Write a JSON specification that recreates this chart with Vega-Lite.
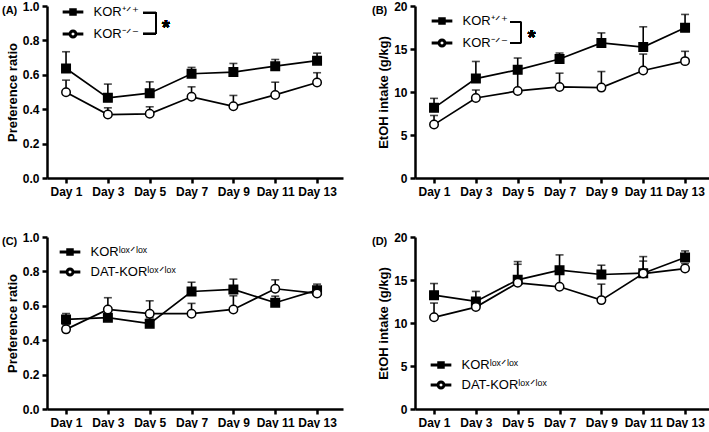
{
  "$schema": "https://vega.github.io/schema/vega-lite/v6.json",
  "padding": {"left": 2, "top": 0, "right": 0, "bottom": 0},
  "data": {"values": [
    {"panel":"A","genotype":"KOR⁺ᐟ⁺","day":1,"mean":0.637,"upper":0.734},
    {"panel":"A","genotype":"KOR⁺ᐟ⁺","day":3,"mean":0.466,"upper":0.546},
    {"panel":"A","genotype":"KOR⁺ᐟ⁺","day":5,"mean":0.493,"upper":0.559},
    {"panel":"A","genotype":"KOR⁺ᐟ⁺","day":7,"mean":0.606,"upper":0.643},
    {"panel":"A","genotype":"KOR⁺ᐟ⁺","day":9,"mean":0.616,"upper":0.666},
    {"panel":"A","genotype":"KOR⁺ᐟ⁺","day":11,"mean":0.650,"upper":0.689},
    {"panel":"A","genotype":"KOR⁺ᐟ⁺","day":13,"mean":0.682,"upper":0.726},
    {"panel":"A","genotype":"KOR⁻ᐟ⁻","day":1,"mean":0.499,"upper":0.569},
    {"panel":"A","genotype":"KOR⁻ᐟ⁻","day":3,"mean":0.369,"upper":0.408},
    {"panel":"A","genotype":"KOR⁻ᐟ⁻","day":5,"mean":0.373,"upper":0.414},
    {"panel":"A","genotype":"KOR⁻ᐟ⁻","day":7,"mean":0.472,"upper":0.530},
    {"panel":"A","genotype":"KOR⁻ᐟ⁻","day":9,"mean":0.417,"upper":0.480},
    {"panel":"A","genotype":"KOR⁻ᐟ⁻","day":11,"mean":0.483,"upper":0.557},
    {"panel":"A","genotype":"KOR⁻ᐟ⁻","day":13,"mean":0.555,"upper":0.612},
    {"panel":"B","genotype":"KOR⁺ᐟ⁺","day":1,"mean":8.16,"upper":9.26},
    {"panel":"B","genotype":"KOR⁺ᐟ⁺","day":3,"mean":11.56,"upper":13.55},
    {"panel":"B","genotype":"KOR⁺ᐟ⁺","day":5,"mean":12.58,"upper":13.95},
    {"panel":"B","genotype":"KOR⁺ᐟ⁺","day":7,"mean":13.83,"upper":14.53},
    {"panel":"B","genotype":"KOR⁺ᐟ⁺","day":9,"mean":15.70,"upper":16.87},
    {"panel":"B","genotype":"KOR⁺ᐟ⁺","day":11,"mean":15.23,"upper":17.58},
    {"panel":"B","genotype":"KOR⁺ᐟ⁺","day":13,"mean":17.46,"upper":19.02},
    {"panel":"B","genotype":"KOR⁻ᐟ⁻","day":1,"mean":6.21,"upper":7.27},
    {"panel":"B","genotype":"KOR⁻ᐟ⁻","day":3,"mean":9.30,"upper":10.23},
    {"panel":"B","genotype":"KOR⁻ᐟ⁻","day":5,"mean":10.12,"upper":12.6},
    {"panel":"B","genotype":"KOR⁻ᐟ⁻","day":7,"mean":10.59,"upper":12.19},
    {"panel":"B","genotype":"KOR⁻ᐟ⁻","day":9,"mean":10.51,"upper":12.38},
    {"panel":"B","genotype":"KOR⁻ᐟ⁻","day":11,"mean":12.5,"upper":14.41},
    {"panel":"B","genotype":"KOR⁻ᐟ⁻","day":13,"mean":13.59,"upper":14.73},
    {"panel":"C","genotype":"KORˡᵒˣᐟˡᵒˣ","day":1,"mean":0.521,"upper":0.555},
    {"panel":"C","genotype":"KORˡᵒˣᐟˡᵒˣ","day":3,"mean":0.531,"upper":0.55},
    {"panel":"C","genotype":"KORˡᵒˣᐟˡᵒˣ","day":5,"mean":0.496,"upper":0.53},
    {"panel":"C","genotype":"KORˡᵒˣᐟˡᵒˣ","day":7,"mean":0.683,"upper":0.737},
    {"panel":"C","genotype":"KORˡᵒˣᐟˡᵒˣ","day":9,"mean":0.695,"upper":0.755},
    {"panel":"C","genotype":"KORˡᵒˣᐟˡᵒˣ","day":11,"mean":0.618,"upper":0.656},
    {"panel":"C","genotype":"KORˡᵒˣᐟˡᵒˣ","day":13,"mean":0.691,"upper":0.726},
    {"panel":"C","genotype":"DAT-KORˡᵒˣᐟˡᵒˣ","day":1,"mean":0.463,"upper":0.49},
    {"panel":"C","genotype":"DAT-KORˡᵒˣᐟˡᵒˣ","day":3,"mean":0.579,"upper":0.647},
    {"panel":"C","genotype":"DAT-KORˡᵒˣᐟˡᵒˣ","day":5,"mean":0.554,"upper":0.629},
    {"panel":"C","genotype":"DAT-KORˡᵒˣᐟˡᵒˣ","day":7,"mean":0.554,"upper":0.614},
    {"panel":"C","genotype":"DAT-KORˡᵒˣᐟˡᵒˣ","day":9,"mean":0.579,"upper":0.658},
    {"panel":"C","genotype":"DAT-KORˡᵒˣᐟˡᵒˣ","day":11,"mean":0.699,"upper":0.751},
    {"panel":"C","genotype":"DAT-KORˡᵒˣᐟˡᵒˣ","day":13,"mean":0.672,"upper":0.70},
    {"panel":"D","genotype":"KORˡᵒˣᐟˡᵒˣ","day":1,"mean":13.24,"upper":14.59},
    {"panel":"D","genotype":"KORˡᵒˣᐟˡᵒˣ","day":3,"mean":12.51,"upper":13.67},
    {"panel":"D","genotype":"KORˡᵒˣᐟˡᵒˣ","day":5,"mean":15.02,"upper":17.14},
    {"panel":"D","genotype":"KORˡᵒˣᐟˡᵒˣ","day":7,"mean":16.14,"upper":17.92},
    {"panel":"D","genotype":"KORˡᵒˣᐟˡᵒˣ","day":9,"mean":15.64,"upper":16.72},
    {"panel":"D","genotype":"KORˡᵒˣᐟˡᵒˣ","day":11,"mean":15.79,"upper":17.72},
    {"panel":"D","genotype":"KORˡᵒˣᐟˡᵒˣ","day":13,"mean":17.61,"upper":18.38},
    {"panel":"D","genotype":"DAT-KORˡᵒˣᐟˡᵒˣ","day":1,"mean":10.66,"upper":12.32},
    {"panel":"D","genotype":"DAT-KORˡᵒˣᐟˡᵒˣ","day":3,"mean":11.85,"upper":12.5},
    {"panel":"D","genotype":"DAT-KORˡᵒˣᐟˡᵒˣ","day":5,"mean":14.67,"upper":16.83},
    {"panel":"D","genotype":"DAT-KORˡᵒˣᐟˡᵒˣ","day":7,"mean":14.21,"upper":15.8},
    {"panel":"D","genotype":"DAT-KORˡᵒˣᐟˡᵒˣ","day":9,"mean":12.66,"upper":14.52},
    {"panel":"D","genotype":"DAT-KORˡᵒˣᐟˡᵒˣ","day":11,"mean":15.75,"upper":17.2},
    {"panel":"D","genotype":"DAT-KORˡᵒˣᐟˡᵒˣ","day":13,"mean":16.33,"upper":16.9}
  ]},
  "spacing": 34,
  "resolve": {"scale": {"x": "independent", "y": "independent", "fill": "independent", "shape": "independent"}, "legend": {"fill": "independent", "shape": "independent"}},
  "vconcat": [
    {
      "hconcat": [
        {
          "width": 296, "height": 172,
          "title": {"text": "(A)", "dx": -45},
          "transform": [{"filter": "datum.panel === 'A'"}],
          "encoding": {
            "x": {"field": "day", "type": "quantitative", "scale": {"domain": [0.09, 14.24], "nice": false, "zero": false}, "axis": {"values": [1,3,5,7,9,11,13], "labelExpr": "'Day ' + datum.value", "title": null, "labelOverlap": false, "labelFlush": false}},
            "y": {"field": "mean", "type": "quantitative", "scale": {"domain": [0, 1], "nice": false}, "axis": {"values": [0,0.2,0.4,0.6,0.8,1], "format": ".1f", "title": "Preference ratio"}}
          },
          "resolve": {"scale": {"shape": "independent", "fill": "independent"}, "legend": {"shape": "independent", "fill": "independent"}},
          "layer": [
            {"mark": {"type": "rule", "color": "black", "strokeWidth": 1.6}, "encoding": {"y2": {"field": "upper"}}},
            {"mark": {"type": "tick", "orient": "horizontal", "color": "black", "size": 8, "thickness": 1.6}, "encoding": {"y": {"field": "upper", "type": "quantitative"}}},
            {"mark": {"type": "line", "color": "black", "strokeWidth": 1.7}, "encoding": {"detail": {"field": "genotype"}}},
            {"mark": {"type": "point", "opacity": 1, "size": 72, "strokeWidth": 1.5, "stroke": "black"},
             "encoding": {
               "shape": {"field": "genotype", "scale": {"domain": ["KOR⁺ᐟ⁺", "KOR⁻ᐟ⁻"], "range": ["square", "circle"]}, "legend": null},
               "fill": {"field": "genotype", "scale": {"domain": ["KOR⁺ᐟ⁺", "KOR⁻ᐟ⁻"], "range": ["black", "white"]}, "legend": null}
             }},
            {"transform": [{"filter": "false"}],
             "mark": {"type": "point", "opacity": 1, "stroke": "black", "strokeWidth": 1.6},
             "encoding": {
               "shape": {"field": "genotype", "scale": {"domain": ["KOR⁺ᐟ⁺", "KOR⁻ᐟ⁻"], "range": ["M-1.2,-0.1H1.2V0.1H-1.2ZM-0.375,-0.375H0.375V0.375H-0.375Z", "M-1.2,-0.1H-0.46V0.1H-1.2ZM0.46,-0.1H1.2V0.1H0.46ZM-0.46,0A0.46,0.46 0 1,0 0.46,0A0.46,0.46 0 1,0 -0.46,0ZM-0.28,0A0.28,0.28 0 1,1 0.28,0A0.28,0.28 0 1,1 -0.28,0Z"]},
                 "legend": {"orient": "none", "legendX": 17, "legendY": -3, "title": null, "padding": 0, "symbolSize": 256, "labelOffset": 11.5, "rowPadding": 6}},
               "fill": {"field": "genotype", "scale": {"domain": ["KOR⁺ᐟ⁺", "KOR⁻ᐟ⁻"], "range": ["black", "black"]},
                 "legend": {"orient": "none", "legendX": 17, "legendY": -3, "title": null, "padding": 0, "symbolSize": 256, "labelOffset": 11.5, "rowPadding": 6}}
             }},
            {"mark": {"type": "rule", "color": "black", "strokeWidth": 1.5}, "encoding": {"x": {"datum": 4.68}, "x2": {"datum": 5.30}, "y": {"datum": 0.961}}},
            {"mark": {"type": "rule", "color": "black", "strokeWidth": 1.5}, "encoding": {"x": {"datum": 5.30}, "y": {"datum": 0.961}, "y2": {"datum": 0.839}}},
            {"mark": {"type": "rule", "color": "black", "strokeWidth": 1.5}, "encoding": {"x": {"datum": 4.68}, "x2": {"datum": 5.30}, "y": {"datum": 0.839}}},
            {"mark": {"type": "text", "text": "*", "font": "Liberation Sans", "fontWeight": "bold", "fontSize": 20, "align": "center", "baseline": "alphabetic", "color": "black"}, "encoding": {"x": {"datum": 5.77}, "y": {"datum": 0.835}}}
          ]
        },
        {
          "width": 296, "height": 172,
          "title": {"text": "(B)", "dx": -43},
          "transform": [{"filter": "datum.panel === 'B'"}],
          "encoding": {
            "x": {"field": "day", "type": "quantitative", "scale": {"domain": [0.09, 14.24], "nice": false, "zero": false}, "axis": {"values": [1,3,5,7,9,11,13], "labelExpr": "'Day ' + datum.value", "title": null, "labelOverlap": false, "labelFlush": false}},
            "y": {"field": "mean", "type": "quantitative", "scale": {"domain": [0, 20], "nice": false}, "axis": {"values": [0,5,10,15,20], "title": "EtOH intake (g/kg)"}}
          },
          "resolve": {"scale": {"shape": "independent", "fill": "independent"}, "legend": {"shape": "independent", "fill": "independent"}},
          "layer": [
            {"mark": {"type": "rule", "color": "black", "strokeWidth": 1.6}, "encoding": {"y2": {"field": "upper"}}},
            {"mark": {"type": "tick", "orient": "horizontal", "color": "black", "size": 8, "thickness": 1.6}, "encoding": {"y": {"field": "upper", "type": "quantitative"}}},
            {"mark": {"type": "line", "color": "black", "strokeWidth": 1.7}, "encoding": {"detail": {"field": "genotype"}}},
            {"mark": {"type": "point", "opacity": 1, "size": 72, "strokeWidth": 1.5, "stroke": "black"},
             "encoding": {
               "shape": {"field": "genotype", "scale": {"domain": ["KOR⁺ᐟ⁺", "KOR⁻ᐟ⁻"], "range": ["square", "circle"]}, "legend": null},
               "fill": {"field": "genotype", "scale": {"domain": ["KOR⁺ᐟ⁺", "KOR⁻ᐟ⁻"], "range": ["black", "white"]}, "legend": null}
             }},
            {"transform": [{"filter": "false"}],
             "mark": {"type": "point", "opacity": 1, "stroke": "black", "strokeWidth": 1.6},
             "encoding": {
               "shape": {"field": "genotype", "scale": {"domain": ["KOR⁺ᐟ⁺", "KOR⁻ᐟ⁻"], "range": ["M-1.2,-0.1H1.2V0.1H-1.2ZM-0.375,-0.375H0.375V0.375H-0.375Z", "M-1.2,-0.1H-0.46V0.1H-1.2ZM0.46,-0.1H1.2V0.1H0.46ZM-0.46,0A0.46,0.46 0 1,0 0.46,0A0.46,0.46 0 1,0 -0.46,0ZM-0.28,0A0.28,0.28 0 1,1 0.28,0A0.28,0.28 0 1,1 -0.28,0Z"]},
                 "legend": {"orient": "none", "legendX": 18, "legendY": 6, "title": null, "padding": 0, "symbolSize": 256, "labelOffset": 11.5, "rowPadding": 6}},
               "fill": {"field": "genotype", "scale": {"domain": ["KOR⁺ᐟ⁺", "KOR⁻ᐟ⁻"], "range": ["black", "black"]},
                 "legend": {"orient": "none", "legendX": 18, "legendY": 6, "title": null, "padding": 0, "symbolSize": 256, "labelOffset": 11.5, "rowPadding": 6}}
             }},
            {"mark": {"type": "rule", "color": "black", "strokeWidth": 1.5}, "encoding": {"x": {"datum": 4.63}, "x2": {"datum": 5.16}, "y": {"datum": 18.14}}},
            {"mark": {"type": "rule", "color": "black", "strokeWidth": 1.5}, "encoding": {"x": {"datum": 5.16}, "y": {"datum": 18.14}, "y2": {"datum": 15.70}}},
            {"mark": {"type": "rule", "color": "black", "strokeWidth": 1.5}, "encoding": {"x": {"datum": 4.63}, "x2": {"datum": 5.16}, "y": {"datum": 15.70}}},
            {"mark": {"type": "text", "text": "*", "font": "Liberation Sans", "fontWeight": "bold", "fontSize": 20, "align": "center", "baseline": "alphabetic", "color": "black"}, "encoding": {"x": {"datum": 5.67}, "y": {"datum": 15.6}}}
          ]
        }
      ],
      "spacing": 72,
      "bounds": "flush",
      "resolve": {"scale": {"x": "independent", "y": "independent", "fill": "independent", "shape": "independent"}, "legend": {"fill": "independent", "shape": "independent"}}
    },
    {
      "hconcat": [
        {
          "width": 296, "height": 172,
          "title": {"text": "(C)", "dx": -45},
          "transform": [{"filter": "datum.panel === 'C'"}],
          "encoding": {
            "x": {"field": "day", "type": "quantitative", "scale": {"domain": [0.09, 14.24], "nice": false, "zero": false}, "axis": {"values": [1,3,5,7,9,11,13], "labelExpr": "'Day ' + datum.value", "title": null, "labelOverlap": false, "labelFlush": false}},
            "y": {"field": "mean", "type": "quantitative", "scale": {"domain": [0, 1], "nice": false}, "axis": {"values": [0,0.2,0.4,0.6,0.8,1], "format": ".1f", "title": "Preference ratio"}}
          },
          "resolve": {"scale": {"shape": "independent", "fill": "independent"}, "legend": {"shape": "independent", "fill": "independent"}},
          "layer": [
            {"mark": {"type": "rule", "color": "black", "strokeWidth": 1.6}, "encoding": {"y2": {"field": "upper"}}},
            {"mark": {"type": "tick", "orient": "horizontal", "color": "black", "size": 8, "thickness": 1.6}, "encoding": {"y": {"field": "upper", "type": "quantitative"}}},
            {"mark": {"type": "line", "color": "black", "strokeWidth": 1.7}, "encoding": {"detail": {"field": "genotype"}}},
            {"mark": {"type": "point", "opacity": 1, "size": 72, "strokeWidth": 1.5, "stroke": "black"},
             "encoding": {
               "shape": {"field": "genotype", "scale": {"domain": ["KORˡᵒˣᐟˡᵒˣ", "DAT-KORˡᵒˣᐟˡᵒˣ"], "range": ["square", "circle"]}, "legend": null},
               "fill": {"field": "genotype", "scale": {"domain": ["KORˡᵒˣᐟˡᵒˣ", "DAT-KORˡᵒˣᐟˡᵒˣ"], "range": ["black", "white"]}, "legend": null}
             }},
            {"transform": [{"filter": "false"}],
             "mark": {"type": "point", "opacity": 1, "stroke": "black", "strokeWidth": 1.6},
             "encoding": {
               "shape": {"field": "genotype", "scale": {"domain": ["KORˡᵒˣᐟˡᵒˣ", "DAT-KORˡᵒˣᐟˡᵒˣ"], "range": ["M-1.2,-0.1H1.2V0.1H-1.2ZM-0.375,-0.375H0.375V0.375H-0.375Z", "M-1.2,-0.1H-0.46V0.1H-1.2ZM0.46,-0.1H1.2V0.1H0.46ZM-0.46,0A0.46,0.46 0 1,0 0.46,0A0.46,0.46 0 1,0 -0.46,0ZM-0.28,0A0.28,0.28 0 1,1 0.28,0A0.28,0.28 0 1,1 -0.28,0Z"]},
                 "legend": {"orient": "none", "legendX": 14, "legendY": 6, "title": null, "padding": 0, "symbolSize": 256, "labelOffset": 11.5, "rowPadding": 4}},
               "fill": {"field": "genotype", "scale": {"domain": ["KORˡᵒˣᐟˡᵒˣ", "DAT-KORˡᵒˣᐟˡᵒˣ"], "range": ["black", "black"]},
                 "legend": {"orient": "none", "legendX": 14, "legendY": 6, "title": null, "padding": 0, "symbolSize": 256, "labelOffset": 11.5, "rowPadding": 4}}
             }}
          ]
        },
        {
          "width": 296, "height": 172,
          "title": {"text": "(D)", "dx": -43},
          "transform": [{"filter": "datum.panel === 'D'"}],
          "encoding": {
            "x": {"field": "day", "type": "quantitative", "scale": {"domain": [0.09, 14.24], "nice": false, "zero": false}, "axis": {"values": [1,3,5,7,9,11,13], "labelExpr": "'Day ' + datum.value", "title": null, "labelOverlap": false, "labelFlush": false}},
            "y": {"field": "mean", "type": "quantitative", "scale": {"domain": [0, 20], "nice": false}, "axis": {"values": [0,5,10,15,20], "title": "EtOH intake (g/kg)"}}
          },
          "resolve": {"scale": {"shape": "independent", "fill": "independent"}, "legend": {"shape": "independent", "fill": "independent"}},
          "layer": [
            {"mark": {"type": "rule", "color": "black", "strokeWidth": 1.6}, "encoding": {"y2": {"field": "upper"}}},
            {"mark": {"type": "tick", "orient": "horizontal", "color": "black", "size": 8, "thickness": 1.6}, "encoding": {"y": {"field": "upper", "type": "quantitative"}}},
            {"mark": {"type": "line", "color": "black", "strokeWidth": 1.7}, "encoding": {"detail": {"field": "genotype"}}},
            {"mark": {"type": "point", "opacity": 1, "size": 72, "strokeWidth": 1.5, "stroke": "black"},
             "encoding": {
               "shape": {"field": "genotype", "scale": {"domain": ["KORˡᵒˣᐟˡᵒˣ", "DAT-KORˡᵒˣᐟˡᵒˣ"], "range": ["square", "circle"]}, "legend": null},
               "fill": {"field": "genotype", "scale": {"domain": ["KORˡᵒˣᐟˡᵒˣ", "DAT-KORˡᵒˣᐟˡᵒˣ"], "range": ["black", "white"]}, "legend": null}
             }},
            {"transform": [{"filter": "false"}],
             "mark": {"type": "point", "opacity": 1, "stroke": "black", "strokeWidth": 1.6},
             "encoding": {
               "shape": {"field": "genotype", "scale": {"domain": ["KORˡᵒˣᐟˡᵒˣ", "DAT-KORˡᵒˣᐟˡᵒˣ"], "range": ["M-1.2,-0.1H1.2V0.1H-1.2ZM-0.375,-0.375H0.375V0.375H-0.375Z", "M-1.2,-0.1H-0.46V0.1H-1.2ZM0.46,-0.1H1.2V0.1H0.46ZM-0.46,0A0.46,0.46 0 1,0 0.46,0A0.46,0.46 0 1,0 -0.46,0ZM-0.28,0A0.28,0.28 0 1,1 0.28,0A0.28,0.28 0 1,1 -0.28,0Z"]},
                 "legend": {"orient": "none", "legendX": 17, "legendY": 119, "title": null, "padding": 0, "symbolSize": 256, "labelOffset": 11.5, "rowPadding": 4}},
               "fill": {"field": "genotype", "scale": {"domain": ["KORˡᵒˣᐟˡᵒˣ", "DAT-KORˡᵒˣᐟˡᵒˣ"], "range": ["black", "black"]},
                 "legend": {"orient": "none", "legendX": 17, "legendY": 119, "title": null, "padding": 0, "symbolSize": 256, "labelOffset": 11.5, "rowPadding": 4}}
             }}
          ]
        }
      ],
      "spacing": 72,
      "bounds": "flush",
      "resolve": {"scale": {"x": "independent", "y": "independent", "fill": "independent", "shape": "independent"}, "legend": {"fill": "independent", "shape": "independent"}}
    }
  ],
  "config": {
    "view": {"stroke": null},
    "axis": {"domainColor": "black", "domainWidth": 2.5, "tickColor": "black", "tickWidth": 2.5, "tickSize": 5, "labelFont": "Liberation Sans", "labelFontWeight": "bold", "labelFontSize": 12, "labelColor": "black", "labelPadding": 3, "titleFont": "Liberation Sans", "titleFontWeight": "bold", "titleFontSize": 13, "titleColor": "black", "titlePadding": 3, "grid": false},
    "legend": {"labelFont": "Liberation Sans", "labelFontSize": 13, "labelFontWeight": "normal", "labelColor": "black"},
    "title": {"anchor": "start", "frame": "group", "font": "Liberation Sans", "fontWeight": "bold", "fontSize": 11, "color": "black", "baseline": "middle", "offset": -16}
  }
}
